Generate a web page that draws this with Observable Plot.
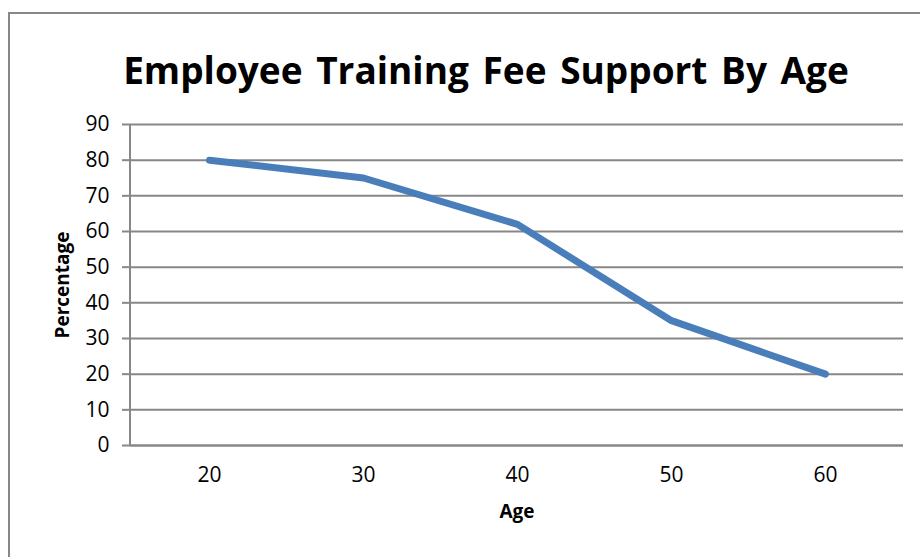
<!DOCTYPE html>
<html>
<head>
<meta charset="utf-8">
<script src="https://cdn.jsdelivr.net/npm/d3@7"></script>
<script src="https://cdn.jsdelivr.net/npm/@observablehq/plot@0.6"></script>
<style>
  html, body { margin: 0; padding: 0; background: #fff; }
  #wrap { position: relative; width: 920px; height: 557px; overflow: hidden; background: #fff; }
  #frame { position: absolute; left: 8px; top: 12px; width: 940px; height: 600px; border-left: 2px solid #878787; border-top: 2px solid #878787; box-sizing: border-box; }
  #title { position: absolute; left: 0; top: 44px; width: 972px; text-align: center; font-family: "Open Sans", sans-serif; font-weight: 700; font-size: 37px; line-height: 52px; color: #000; word-spacing: 4px; }
  #chart { position: absolute; left: 0; top: 0; }
</style>
</head>
<body>
<div id="wrap">
  <div id="frame"></div>
  <div id="chart"></div>
  <div id="title">Employee Training Fee Support By Age</div>
</div>
<script>
const ages = ["20", "30", "40", "50", "60"];
const percentages = [80, 75, 62, 35, 20];
const yTicks = [0, 10, 20, 30, 40, 50, 60, 70, 80, 90];

const data = ages.map((a, i) => ({age: a, pct: percentages[i]}));

const chart = Plot.plot({
  width: 920,
  height: 557,
  marginLeft: 130,
  marginRight: 17,
  marginTop: 124,
  marginBottom: 112,
  style: {fontFamily: "Open Sans, sans-serif", fontSize: "21px", color: "#000", background: "transparent"},
  x: {type: "point", domain: ages, padding: 0.5, align: 0.5, label: null},
  y: {domain: [0, 90], ticks: yTicks, label: null},
  marks: [
    Plot.gridY(yTicks, {stroke: "#878787", strokeOpacity: 1, strokeWidth: 2}),
    Plot.axisY(yTicks, {tickSize: 8, tickPadding: 13, stroke: "#878787", strokeWidth: 2, fill: "#000", fontSize: 21, label: null}),
    Plot.axisX({tickSize: 0, tickPadding: 22, fill: "#000", fontSize: 21, label: null}),
    Plot.ruleY([0], {stroke: "#878787", strokeWidth: 2}),
    Plot.line(data, {x: "age", y: "pct", stroke: "#4a7ebb", strokeWidth: 7, strokeLinecap: "round", strokeLinejoin: "miter"}),
    Plot.text(["Percentage"], {frameAnchor: "left", textAnchor: "middle", dx: -68, rotate: -90, fontWeight: "bold", fontSize: 19, fill: "#000"}),
    Plot.text(["Age"], {frameAnchor: "bottom", dy: 72, fontWeight: "bold", fontSize: 19, fill: "#000"})
  ]
});

// vertical y-axis line at the left edge of the plot area
d3.select(chart).append("line")
  .attr("x1", 130).attr("x2", 130)
  .attr("y1", 124).attr("y2", 445)
  .attr("stroke", "#878787").attr("stroke-width", 2);

document.getElementById("chart").appendChild(chart);
</script>
</body>
</html>
